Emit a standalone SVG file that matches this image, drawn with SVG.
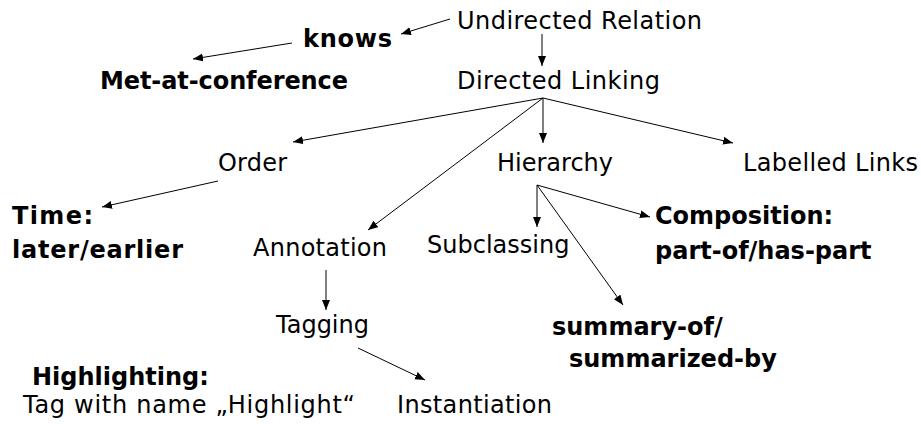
<svg xmlns="http://www.w3.org/2000/svg" width="921" height="424" viewBox="0 0 921 424">
<style>
text{font-family:"DejaVu Sans","Verdana",sans-serif;font-size:24px;fill:#000}
.b{font-weight:bold}
.c line{stroke:#000;stroke-width:1;marker-end:url(#ah)}
</style>
<defs>
<marker id="ah" markerUnits="userSpaceOnUse" markerWidth="12" markerHeight="10" refX="10" refY="4" orient="auto">
<path d="M0,0 L10,4 L0,8 Z" fill="#000"/>
</marker>
</defs>
<rect width="921" height="424" fill="#fff"/>
<g class="c" id="connectors">
<line x1="450" y1="19" x2="401" y2="34"/>
<line x1="292" y1="43" x2="193" y2="59"/>
<line x1="542" y1="34" x2="542" y2="66"/>
<line x1="543" y1="98" x2="293" y2="142"/>
<line x1="543" y1="98" x2="368" y2="230"/>
<line x1="543" y1="98" x2="543" y2="143"/>
<line x1="543" y1="98" x2="733" y2="143"/>
<line x1="218" y1="181" x2="102" y2="207"/>
<line x1="537" y1="185" x2="537" y2="227"/>
<line x1="537" y1="185" x2="650" y2="217"/>
<line x1="537" y1="185" x2="623" y2="305"/>
<line x1="326" y1="270" x2="326" y2="310"/>
<line x1="358" y1="348" x2="425" y2="380"/>
</g>
<g id="undirected"><text x="457" y="29" textLength="245">Undirected Relation</text></g>
<g id="knows"><text class="b" x="303" y="47" textLength="89">knows</text></g>
<g id="met"><text class="b" x="100" y="89" textLength="248">Met-at-conference</text></g>
<g id="directed"><text x="457" y="89" textLength="203">Directed Linking</text></g>
<g id="order"><text x="218" y="171" textLength="69">Order</text></g>
<g id="hierarchy"><text x="497" y="171">Hierarchy</text></g>
<g id="labelled"><text x="743" y="171" textLength="175">Labelled Links</text></g>
<g id="time"><text class="b" x="12" y="224" textLength="81">Time:</text><text class="b" x="12" y="258" textLength="171">later/earlier</text></g>
<g id="annotation"><text x="253" y="256" textLength="134">Annotation</text></g>
<g id="subclassing"><text x="427" y="253">Subclassing</text></g>
<g id="composition"><text class="b" x="655" y="224">Composition:</text><text class="b" x="655" y="259">part-of/has-part</text></g>
<g id="tagging"><text x="276" y="333">Tagging</text></g>
<g id="summary"><text class="b" x="552" y="335">summary-of/</text><text class="b" x="569" y="367">summarized-by</text></g>
<g id="highlighting"><text class="b" x="32" y="385">Highlighting:</text><text x="23" y="413" textLength="332">Tag with name „Highlight“</text></g>
<g id="instantiation"><text x="397" y="413" textLength="155">Instantiation</text></g>
</svg>
